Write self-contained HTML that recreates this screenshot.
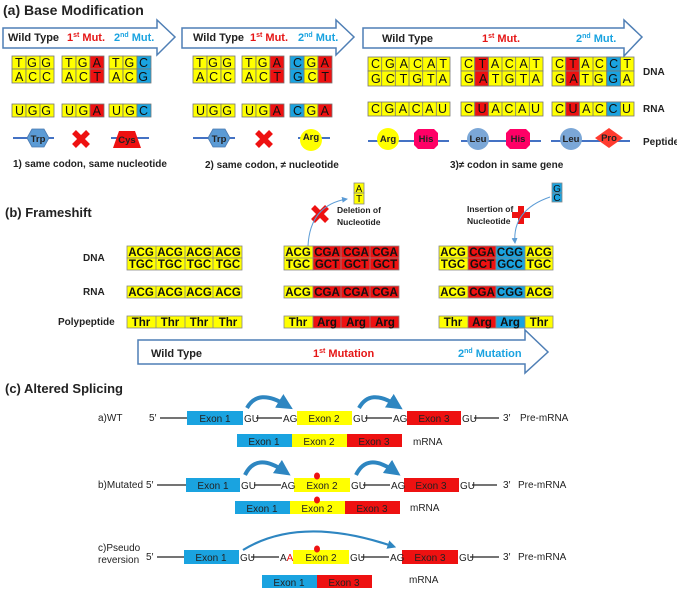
<!DOCTYPE html>
<html><head><meta charset="utf-8"><style>
html,body{margin:0;padding:0;background:#fff}
svg{display:block}
text{font-family:"Liberation Sans",sans-serif}
.lab{font-size:10px;font-weight:bold;fill:#222}
</style></head><body>
<svg width="677" height="589" viewBox="0 0 677 589" xmlns="http://www.w3.org/2000/svg">
<defs>
<marker id="ah" markerWidth="6" markerHeight="6" refX="5" refY="3" orient="auto"><path d="M0,0L6,3L0,6z" fill="#5b9bd5"/></marker>
<marker id="bh" markerWidth="4" markerHeight="4" refX="2" refY="2" orient="auto"><path d="M0,0L4,2L0,4z" fill="#2e86c1"/></marker>
</defs>
<g stroke="#777" stroke-width="0.8">
<g fill="#ffff00">
<rect x="12" y="56" width="14" height="13"/><rect x="26" y="56" width="14" height="13"/><rect x="40" y="56" width="14" height="13"/>
<rect x="12" y="69" width="14" height="14"/><rect x="26" y="69" width="14" height="14"/><rect x="40" y="69" width="14" height="14"/>
<rect x="12" y="104" width="14" height="13"/><rect x="26" y="104" width="14" height="13"/><rect x="40" y="104" width="14" height="13"/>
<rect x="62" y="56" width="14" height="13"/><rect x="76" y="56" width="14" height="13"/>
<rect x="62" y="69" width="14" height="14"/><rect x="76" y="69" width="14" height="14"/>
<rect x="62" y="104" width="14" height="13"/><rect x="76" y="104" width="14" height="13"/>
<rect x="109" y="56" width="14" height="13"/><rect x="123" y="56" width="14" height="13"/>
<rect x="109" y="69" width="14" height="14"/><rect x="123" y="69" width="14" height="14"/>
<rect x="109" y="104" width="14" height="13"/><rect x="123" y="104" width="14" height="13"/>
</g>
<g fill="#ee1111"><rect x="90" y="56" width="14" height="13"/><rect x="90" y="69" width="14" height="14"/><rect x="90" y="104" width="14" height="13"/></g>
<g fill="#1aa3e0"><rect x="137" y="56" width="14" height="13"/><rect x="137" y="69" width="14" height="14"/><rect x="137" y="104" width="14" height="13"/></g>
<g fill="#ffff00">
<rect x="193" y="56" width="14" height="13"/><rect x="207" y="56" width="14" height="13"/><rect x="221" y="56" width="14" height="13"/>
<rect x="193" y="69" width="14" height="14"/><rect x="207" y="69" width="14" height="14"/><rect x="221" y="69" width="14" height="14"/>
<rect x="193" y="104" width="14" height="13"/><rect x="207" y="104" width="14" height="13"/><rect x="221" y="104" width="14" height="13"/>
<rect x="242" y="56" width="14" height="13"/><rect x="256" y="56" width="14" height="13"/>
<rect x="242" y="69" width="14" height="14"/><rect x="256" y="69" width="14" height="14"/>
<rect x="242" y="104" width="14" height="13"/><rect x="256" y="104" width="14" height="13"/>
<rect x="304" y="56" width="14" height="13"/><rect x="304" y="69" width="14" height="14"/><rect x="304" y="104" width="14" height="13"/>
</g>
<g fill="#ee1111"><rect x="270" y="56" width="14" height="13"/><rect x="270" y="69" width="14" height="14"/><rect x="270" y="104" width="14" height="13"/>
<rect x="318" y="56" width="14" height="13"/><rect x="318" y="69" width="14" height="14"/><rect x="318" y="104" width="14" height="13"/></g>
<g fill="#1aa3e0"><rect x="290" y="56" width="14" height="13"/><rect x="290" y="69" width="14" height="14"/><rect x="290" y="104" width="14" height="13"/></g>
<g fill="#ffff00">
<rect x="368" y="57" width="82" height="14"/><rect x="368" y="71" width="82" height="15"/><rect x="368" y="102" width="82" height="14"/>
<rect x="461" y="57" width="82" height="14"/><rect x="461" y="71" width="82" height="15"/><rect x="461" y="102" width="82" height="14"/>
<rect x="552" y="57" width="82" height="14"/><rect x="552" y="71" width="82" height="15"/><rect x="552" y="102" width="82" height="14"/>
</g>
<g fill="#ee1111">
<rect x="474.7" y="57" width="13.7" height="14"/><rect x="474.7" y="71" width="13.7" height="15"/><rect x="474.7" y="102" width="13.7" height="14"/>
<rect x="565.7" y="57" width="13.7" height="14"/><rect x="565.7" y="71" width="13.7" height="15"/><rect x="565.7" y="102" width="13.7" height="14"/>
</g>
<g fill="#1aa3e0"><rect x="606.7" y="57" width="13.7" height="14"/><rect x="606.7" y="71" width="13.7" height="15"/><rect x="606.7" y="102" width="13.7" height="14"/></g>
<g fill="none">
<path d="M381.7,57v29M395.3,57v29M409,57v29M422.7,57v29M436.3,57v29M381.7,102v14M395.3,102v14M409,102v14M422.7,102v14M436.3,102v14"/>
<path d="M474.7,57v29M488.3,57v29M502,57v29M515.7,57v29M529.3,57v29M474.7,102v14M488.3,102v14M502,102v14M515.7,102v14M529.3,102v14"/>
<path d="M565.7,57v29M579.3,57v29M593,57v29M606.7,57v29M620.3,57v29M565.7,102v14M579.3,102v14M593,102v14M606.7,102v14M620.3,102v14"/>
</g>
</g>
<g font-size="12.5" fill="#111">
<text x="15" y="67" textLength="36">TGG</text><text x="15" y="81" textLength="36">ACC</text><text x="15" y="115" textLength="36">UGG</text>
<text x="65" y="67" textLength="36">TGA</text><text x="65" y="81" textLength="36">ACT</text><text x="65" y="115" textLength="36">UGA</text>
<text x="112" y="67" textLength="36">TGC</text><text x="112" y="81" textLength="36">ACG</text><text x="112" y="115" textLength="36">UGC</text>
<text x="196" y="67" textLength="36">TGG</text><text x="196" y="81" textLength="36">ACC</text><text x="196" y="115" textLength="36">UGG</text>
<text x="245" y="67" textLength="36">TGA</text><text x="245" y="81" textLength="36">ACT</text><text x="245" y="115" textLength="36">UGA</text>
<text x="293" y="67" textLength="36">CGA</text><text x="293" y="81" textLength="36">GCT</text><text x="293" y="115" textLength="36">CGA</text>
<text x="371" y="68" textLength="76">CGACAT</text><text x="371" y="83" textLength="76">GCTGTA</text><text x="371" y="113" textLength="76">CGACAU</text>
<text x="464" y="68" textLength="76">CTACAT</text><text x="464" y="83" textLength="76">GATGTA</text><text x="464" y="113" textLength="76">CUACAU</text>
<text x="555" y="68" textLength="76">CTACCT</text><text x="555" y="83" textLength="76">GATGGA</text><text x="555" y="113" textLength="76">CUACCU</text>
</g>
<g fill="#fff" stroke="#4f7fb5" stroke-width="1.5">
<path d="M3,28H157V20L175,37L157,55V48H3Z"/>
<path d="M182,28H336V20L354,37L336,55V48H182Z"/>
<path d="M363,28H624V20L642,37L624,56V48H363Z"/>
</g>
<text x="3" y="15" font-size="14" font-weight="bold" fill="#222">(a) Base Modification</text>
<g font-size="11" font-weight="bold">
<text x="8" y="41" fill="#222">Wild Type</text><text x="67" y="41" fill="#e51616">1<tspan font-size="7" dy="-4">st</tspan><tspan dy="4"> Mut.</tspan></text><text x="114" y="41" fill="#1aa3e0">2<tspan font-size="7" dy="-4">nd</tspan><tspan dy="4"> Mut.</tspan></text>
<text x="193" y="41" fill="#222">Wild Type</text><text x="250" y="41" fill="#e51616">1<tspan font-size="7" dy="-4">st</tspan><tspan dy="4"> Mut.</tspan></text><text x="298" y="41" fill="#1aa3e0">2<tspan font-size="7" dy="-4">nd</tspan><tspan dy="4"> Mut.</tspan></text>
<text x="382" y="42" fill="#222">Wild Type</text><text x="482" y="42" fill="#e51616">1<tspan font-size="7" dy="-4">st</tspan><tspan dy="4"> Mut.</tspan></text><text x="576" y="42" fill="#1aa3e0">2<tspan font-size="7" dy="-4">nd</tspan><tspan dy="4"> Mut.</tspan></text>
</g>
<g class="lab"><text x="643" y="75">DNA</text><text x="643" y="112">RNA</text><text x="643" y="145">Peptide</text></g>
<g stroke="#4472c4" stroke-width="2"><path d="M13,138H54M111,138H149M193,138H235M298,138H330M368,141H449M461,141H541M551,141H630"/></g>
<g stroke="#4a78b0" stroke-width="0.8" fill="#5b9bd5">
<path d="M27,138L32,129H44L49,138L44,147H32Z"/><path d="M208,138L213,129H225L230,138L225,147H213Z"/>
</g>
<path d="M119,131H135L141,148H113Z" fill="#ee1111"/>
<g stroke="#ee1111" stroke-width="5.5"><path d="M74,132L88,146M88,132L74,146M257,132L271,146M271,132L257,146"/></g>
<circle cx="311" cy="140" r="11" fill="#ffff00"/>
<circle cx="388" cy="139" r="11" fill="#ffff00"/>
<path d="M418,129H434L438,133V145L434,149H418L414,145V133Z" fill="#ff0066"/>
<path d="M510,129H526L530,133V145L526,149H510L506,145V133Z" fill="#ff0066"/>
<circle cx="478" cy="139" r="11" fill="#7ba7d7"/><circle cx="571" cy="139" r="11" fill="#7ba7d7"/>
<path d="M595,138L609,128L623,138L609,148Z" fill="#ff3b2f"/>
<g font-size="9.5" font-weight="bold" fill="#222" text-anchor="middle">
<text x="38" y="142">Trp</text><text x="219" y="142">Trp</text><text x="127" y="143">Cys</text><text x="311" y="140">Arg</text>
<text x="388" y="142">Arg</text><text x="426" y="142">His</text><text x="478" y="142">Leu</text><text x="518" y="142">His</text><text x="571" y="142">Leu</text><text x="609" y="141">Pro</text>
</g>
<g font-size="10" font-weight="bold" fill="#222">
<text x="13" y="167">1) same codon, same nucleotide</text>
<text x="205" y="168">2) same codon, ≠ nucleotide</text>
<text x="450" y="168">3)≠ codon in same gene</text>
</g>
<text x="5" y="217" font-size="13" font-weight="bold" fill="#222">(b)  Frameshift</text>
<g class="lab" font-size="11"><text x="83" y="261">DNA</text><text x="83" y="295">RNA</text><text x="58" y="325">Polypeptide</text></g>
<g stroke="#888" stroke-width="0.8">
<g fill="#ffff00">
<rect x="127" y="246" width="115" height="12"/><rect x="127" y="258" width="115" height="12"/><rect x="127" y="286" width="115" height="12"/><rect x="127" y="316" width="115" height="12"/>
<rect x="284" y="246" width="29" height="24"/><rect x="284" y="286" width="29" height="12"/><rect x="284" y="316" width="29" height="12"/>
<rect x="439" y="246" width="114" height="24"/><rect x="439" y="286" width="114" height="12"/><rect x="439" y="316" width="114" height="12"/>
</g>
<g fill="#ee1111">
<rect x="313" y="246" width="86" height="24"/><rect x="313" y="286" width="86" height="12"/><rect x="313" y="316" width="86" height="12"/>
<rect x="468" y="246" width="28" height="24"/><rect x="468" y="286" width="28" height="12"/><rect x="468" y="316" width="28" height="12"/>
</g>
<g fill="#1aa3e0"><rect x="496" y="246" width="29" height="24"/><rect x="496" y="286" width="29" height="12"/><rect x="496" y="316" width="29" height="12"/></g>
<path fill="none" d="M156,246v24M185,246v24M213,246v24M156,286v12M185,286v12M213,286v12M156,316v12M185,316v12M213,316v12M341,246v24M370,246v24M341,286v12M370,286v12M341,316v12M370,316v12M284,258h115M439,258h114M313,258h86"/>
</g>
<g font-size="11.5" font-weight="bold" fill="#111" text-anchor="middle">
<text x="141" y="256">ACG</text><text x="170" y="256">ACG</text><text x="199" y="256">ACG</text><text x="228" y="256">ACG</text>
<text x="141" y="268">TGC</text><text x="170" y="268">TGC</text><text x="199" y="268">TGC</text><text x="228" y="268">TGC</text>
<text x="141" y="296">ACG</text><text x="170" y="296">ACG</text><text x="199" y="296">ACG</text><text x="228" y="296">ACG</text>
<text x="141" y="326">Thr</text><text x="170" y="326">Thr</text><text x="199" y="326">Thr</text><text x="228" y="326">Thr</text>
<text x="298" y="256">ACG</text><text x="327" y="256">CGA</text><text x="356" y="256">CGA</text><text x="385" y="256">CGA</text>
<text x="298" y="268">TGC</text><text x="327" y="268">GCT</text><text x="356" y="268">GCT</text><text x="385" y="268">GCT</text>
<text x="298" y="296">ACG</text><text x="327" y="296">CGA</text><text x="356" y="296">CGA</text><text x="385" y="296">CGA</text>
<text x="298" y="326">Thr</text><text x="327" y="326">Arg</text><text x="356" y="326">Arg</text><text x="385" y="326">Arg</text>
<text x="453" y="256">ACG</text><text x="482" y="256">CGA</text><text x="510" y="256">CGG</text><text x="539" y="256">ACG</text>
<text x="453" y="268">TGC</text><text x="482" y="268">GCT</text><text x="510" y="268">GCC</text><text x="539" y="268">TGC</text>
<text x="453" y="296">ACG</text><text x="482" y="296">CGA</text><text x="510" y="296">CGG</text><text x="539" y="296">ACG</text>
<text x="453" y="326">Thr</text><text x="482" y="326">Arg</text><text x="510" y="326">Arg</text><text x="539" y="326">Thr</text>
</g>
<path d="M138,340H525V330L548,352L525,373V364H138Z" fill="#fff" stroke="#4f7fb5" stroke-width="1.5"/>
<g font-size="11" font-weight="bold">
<text x="151" y="357" fill="#222">Wild Type</text>
<text x="313" y="357" fill="#e51616">1<tspan font-size="7" dy="-4">st</tspan><tspan dy="4"> Mutation</tspan></text>
<text x="458" y="357" fill="#1aa3e0">2<tspan font-size="7" dy="-4">nd</tspan><tspan dy="4"> Mutation</tspan></text>
</g>
<g stroke="#888" stroke-width="0.8"><rect x="354" y="183" width="10" height="10" fill="#ffff00"/><rect x="354" y="193" width="10" height="11" fill="#ffff00"/>
<rect x="552" y="183" width="10" height="10" fill="#1aa3e0"/><rect x="552" y="193" width="10" height="9" fill="#1aa3e0"/></g>
<g font-size="10" fill="#111" text-anchor="middle"><text x="359" y="192">A</text><text x="359" y="202">T</text><text x="557" y="192">G</text><text x="557" y="201">C</text></g>
<g stroke="#ee1111" stroke-width="5.5"><path d="M313,207L327,221M327,207L313,221"/></g>
<path d="M521,206v18M512,215h18" stroke="#ee1111" stroke-width="6"/>
<g fill="none" stroke="#5b9bd5" stroke-width="1"><path d="M308,246Q310,205 347,199" marker-end="url(#ah)"/><path d="M550,197Q512,210 515,243" marker-end="url(#ah)"/></g>
<g font-size="8.5" font-weight="bold" fill="#222"><text x="337" y="213">Deletion of</text><text x="337" y="225">Nucleotide</text><text x="467" y="212">Insertion of</text><text x="467" y="224">Nucleotide</text></g>
<text x="5" y="393" font-size="13" font-weight="bold" fill="#222">(c) Altered Splicing</text>
<g stroke="#222" stroke-width="1.2"><path d="M160,418H187M256,418H282M365,418H392M474,418H499M157,485H186M254,485H281M363,485H390M472,485H497M157,557H184M251,557H279M361,557H389M470,557H499"/></g>
<g>
<rect x="187" y="411" width="56" height="14" fill="#1aa3e0"/><rect x="297" y="411" width="55" height="14" fill="#ffff00"/><rect x="407" y="411" width="54" height="14" fill="#ee1111"/>
<rect x="237" y="434" width="55" height="13" fill="#1aa3e0"/><rect x="292" y="434" width="55" height="13" fill="#ffff00"/><rect x="347" y="434" width="55" height="13" fill="#ee1111"/>
<rect x="186" y="478" width="54" height="14" fill="#1aa3e0"/><rect x="294" y="478" width="56" height="14" fill="#ffff00"/><rect x="404" y="478" width="55" height="14" fill="#ee1111"/>
<rect x="235" y="501" width="55" height="13" fill="#1aa3e0"/><rect x="290" y="501" width="55" height="13" fill="#ffff00"/><rect x="345" y="501" width="55" height="13" fill="#ee1111"/>
<rect x="184" y="550" width="55" height="14" fill="#1aa3e0"/><rect x="293" y="550" width="56" height="14" fill="#ffff00"/><rect x="402" y="550" width="56" height="14" fill="#ee1111"/>
<rect x="262" y="575" width="55" height="13" fill="#1aa3e0"/><rect x="317" y="575" width="55" height="13" fill="#ee1111"/>
</g>
<g font-size="10" fill="#222" text-anchor="middle">
<text x="215" y="422">Exon 1</text><text x="324" y="422">Exon 2</text><text x="434" y="422">Exon 3</text>
<text x="264" y="445">Exon 1</text><text x="319" y="445">Exon 2</text><text x="374" y="445">Exon 3</text>
<text x="213" y="489">Exon 1</text><text x="322" y="489">Exon 2</text><text x="431" y="489">Exon 3</text>
<text x="262" y="512">Exon 1</text><text x="317" y="512">Exon 2</text><text x="372" y="512">Exon 3</text>
<text x="211" y="561">Exon 1</text><text x="321" y="561">Exon 2</text><text x="430" y="561">Exon 3</text>
<text x="289" y="586">Exon 1</text><text x="344" y="586">Exon 3</text>
</g>
<g font-size="10" fill="#222">
<text x="98" y="421">a)WT</text><text x="149" y="421">5′</text><text x="244" y="422">GU</text><text x="283" y="422">AG</text><text x="353" y="422">GU</text><text x="393" y="422">AG</text><text x="462" y="422">GU</text><text x="503" y="421">3′</text><text x="520" y="421">Pre-mRNA</text><text x="413" y="445">mRNA</text>
<text x="98" y="488">b)Mutated</text><text x="146" y="488">5′</text><text x="241" y="489">GU</text><text x="281" y="489">AG</text><text x="351" y="489">GU</text><text x="391" y="489">AG</text><text x="460" y="489">GU</text><text x="503" y="488">3′</text><text x="518" y="488">Pre-mRNA</text><text x="410" y="511">mRNA</text>
<text x="98" y="551">c)Pseudo</text><text x="98" y="563">reversion</text><text x="146" y="560">5′</text><text x="240" y="561">GU</text><text x="280" y="561">A<tspan fill="#ee1111">A</tspan></text><text x="350" y="561">GU</text><text x="390" y="561">AG</text><text x="459" y="561">GU</text><text x="503" y="560">3′</text><text x="518" y="560">Pre-mRNA</text><text x="409" y="583">mRNA</text>
</g>
<g fill="none" stroke="#2e86c1" stroke-width="4">
<path d="M247,408Q258,388 286,405" marker-end="url(#bh)"/><path d="M359,408Q370,388 396,405" marker-end="url(#bh)"/>
<path d="M245,475Q256,452 284,471" marker-end="url(#bh)"/><path d="M356,475Q367,452 394,471" marker-end="url(#bh)"/>
</g>
<path d="M243,550Q300,515 392,546" fill="none" stroke="#2e86c1" stroke-width="2.2" marker-end="url(#bh)"/>
<g fill="#ee1111"><ellipse cx="317" cy="476" rx="3" ry="3.5"/><ellipse cx="317" cy="500" rx="3" ry="3.5"/><ellipse cx="317" cy="549" rx="3" ry="3.5"/></g>
</svg>
</body></html>
